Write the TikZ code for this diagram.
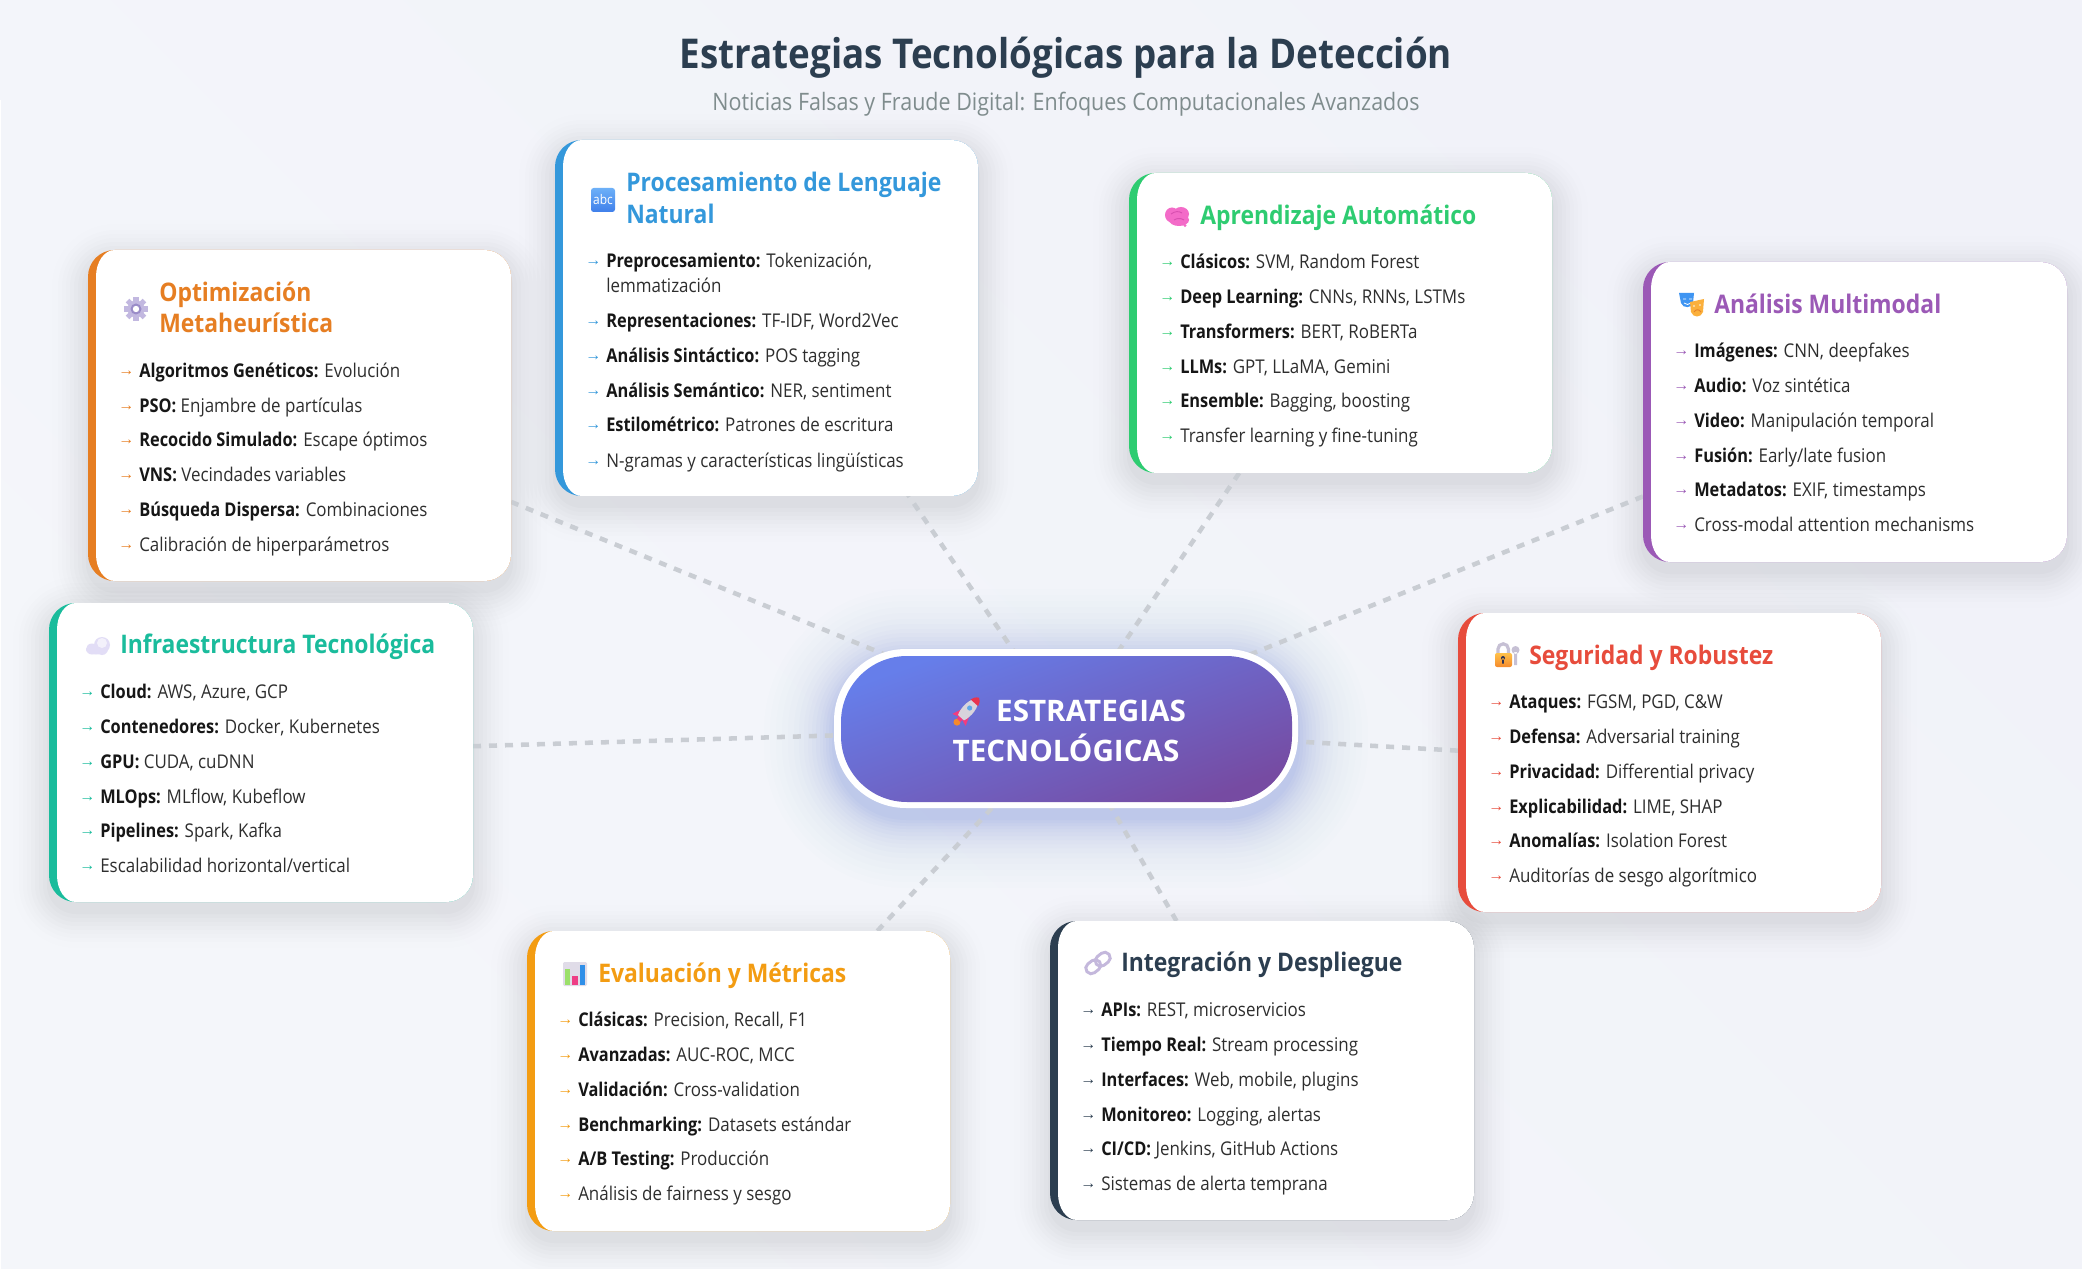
\documentclass[tikz,border=0pt]{standalone}
\usepackage{fontspec}
\setmainfont[FakeStretch=0.895]{Open Sans}
\newfontfamily\arrowfont{Liberation Sans}
\newfontfamily\ibff[FakeStretch=0.865]{Open Sans}
\newcommand{\ibf}{\ibff\bfseries}
\newfontfamily\ttlf[FakeStretch=0.895]{Open Sans}
\newfontfamily\hubf{Open Sans}
\usetikzlibrary{calc,backgrounds}
\pgfdeclarelayer{bgl}\pgfdeclarelayer{lines}
\pgfsetlayers{bgl,lines,main}
\definecolor{bgA}{HTML}{F4F6FA}\definecolor{bgB}{HTML}{F1F2F9}
\definecolor{cOpt}{HTML}{E67E22}\definecolor{cNlp}{HTML}{3498DB}\definecolor{cApr}{HTML}{2ECC71}
\definecolor{cMul}{HTML}{9B59B6}\definecolor{cSeg}{HTML}{E74C3C}\definecolor{cInt}{HTML}{2C3E50}
\definecolor{cEva}{HTML}{F39C12}\definecolor{cInf}{HTML}{1ABC9C}
\definecolor{ink}{HTML}{2E2E2E}\definecolor{inkb}{HTML}{161616}
\definecolor{linkc}{HTML}{C9CDD3}\definecolor{subc}{HTML}{7F8C8D}
\definecolor{hubA}{HTML}{667EEA}\definecolor{hubB}{HTML}{764BA2}
\newcommand{\px}{0.75pt}
\tikzset{x=0.75pt,y=-0.75pt,
 cardbox/.style={rectangle,inner sep=0pt,outer sep=0pt,rounded corners=20pt},
 titletext/.style={anchor=base west,inner sep=0pt,font=\fontsize{19.2pt}{24pt}\ttlf\bfseries},
 itemtext/.style={anchor=base west,inner sep=0pt,font=\fontsize{14.2pt}{19pt}\selectfont,text=ink},
 linkline/.style={draw=linkc,line width=3.4pt,dash pattern=on 6pt off 6pt},
 hubbox/.style={rectangle,inner sep=0pt,outer sep=0pt,rounded corners=54pt},
 hubtext/.style={anchor=base,inner sep=0pt,text=white,font=\fontsize{22.2pt}{26pt}\hubf\bfseries},
}
% card: name x0 y0 x1 y1 colour
\newcommand{\mkcard}[6]{%
 \pgfmathsetmacro{\cw}{#4-#2}\pgfmathsetmacro{\ch}{#5-#3}%
 \begin{pgfonlayer}{bgl}
 \foreach \s/\o in {36/0.005,30/0.007,26/0.008,22/0.009,18/0.010,14/0.011,10/0.012,6/0.013,2/0.014}{
  \pgfmathsetmacro{\rc}{20+0.75*\s}
  \fill[black,opacity=\o,rounded corners=\rc pt] (#2-\s,#3+10-\s) rectangle (#4+\s,#5+10+\s);
 }
 \end{pgfonlayer}
 \node[cardbox,fill=#6,minimum width=\cw*\px,minimum height=\ch*\px] (#1) at ({(#2+#4)/2},{(#3+#5)/2}) {};
 \fill[white] (#2+26.6,#3) -- (#4-26.6,#3) arc[start angle=270,end angle=360,radius=26.6]
   -- (#4,#5-26.6) arc[start angle=0,end angle=90,radius=26.6]
   -- (#2+26.6,#5) arc[start angle=90,end angle=180,x radius=18.6,y radius=26.6]
   -- (#2+8,#3+26.6) arc[start angle=180,end angle=270,x radius=18.6,y radius=26.6] -- cycle;
 \xdef\curx{#2}\xdef\cury{#3}\colorlet{curc}{#6}%
}
\newcommand{\ttl}[3]{\node[titletext,text=curc] (#1) at (\curx+71,\cury+#2+1.5) {#3};}
\newcommand{\itm}[3]{\node[itemtext] (#1) at (\curx+30,\cury+#2+0.3) {\makebox[21\dimexpr\px\relax][l]{\raisebox{1.3pt}{\arrowfont\fontsize{12pt}{12pt}\selectfont\color{curc}→}}#3};}
\newcommand{\itb}[4]{\itm{#1}{#2}{{\ibf\color{inkb}#3} #4}}
% icons, centred at a point
\definecolor{gearc}{HTML}{C2B8E0}\definecolor{gearm}{HTML}{9A8CC8}
\newcommand{\icgear}[2]{\begin{scope}[shift={(#1,#2)}]
 \foreach \a in {0,45,...,315}{\fill[gearc,rotate=\a] (-2.6,-12) rectangle (2.6,-6);}
 \fill[gearc] (0,0) circle[radius=8.5];
 \fill[gearm] (0,0) circle[radius=5.5];
 \fill[white] (0,0) circle[radius=3.2];\end{scope}}
\definecolor{abcA}{HTML}{6DB0F8}\definecolor{abcB}{HTML}{3F7FEA}
\newcommand{\icabc}[2]{\begin{scope}[shift={(#1,#2)}]
 \shade[top color=abcA,bottom color=abcB,rounded corners=2pt] (-12,-12) rectangle (12,12);
 \node[inner sep=0pt,text=white,font=\fontsize{10pt}{10pt}\selectfont] (abcmark) at (0,0) {abc};\end{scope}}
\definecolor{brainc}{HTML}{F36BC8}\definecolor{braind}{HTML}{D84FB0}
\newcommand{\icbrain}[2]{\begin{scope}[shift={(#1,#2)}]
 \fill[brainc] (-5,-2) circle[x radius=7,y radius=7.5];
 \fill[brainc] (4,-3) circle[x radius=8,y radius=7];
 \fill[brainc] (2,3) circle[x radius=10,y radius=6];
 \fill[brainc] (8,8.5) circle[radius=1.6];
 \draw[braind,line width=0.7pt] (-6,-3) .. controls (-2,-6) and (2,-6) .. (5,-4) (-3,3) .. controls (0,1) and (4,1) .. (7,3);
 \end{scope}}
\definecolor{maskb}{HTML}{3F95F2}\definecolor{masko}{HTML}{FBB03C}\definecolor{maskd}{HTML}{E5812A}\definecolor{maskl}{HTML}{FDE0B0}
\newcommand{\icmask}[2]{\begin{scope}[shift={(#1,#2)}]
 \fill[maskb] (-13,-12) -- (2,-12) -- (1,-2) .. controls (0,3) and (-9,4) .. (-11,-2) -- cycle;
 \draw[white,line width=0.6pt] (-9,-6) -- (-6,-6) (-3,-6) -- (0,-6) (-8,-2) .. controls (-6,0) and (-3,0) .. (-1,-2);
 \fill[masko] (-2,-3) -- (12,-6) -- (11,7) .. controls (9,13) and (1,13) .. (-1,7) -- cycle;
 \fill[maskl] (2,1) circle[radius=1.2] (8,0) circle[radius=1.2];
 \draw[maskd,line width=0.7pt] (2,7) .. controls (4,4) and (7,4) .. (9,7);
 \end{scope}}
\definecolor{lockA}{HTML}{FFC24A}\definecolor{lockB}{HTML}{F58A2C}\definecolor{lockg}{HTML}{C6C0D4}\definecolor{lockd}{HTML}{2F3352}
\newcommand{\iclock}[2]{\begin{scope}[shift={(#1,#2)}]
 \draw[lockg,line width=2.4pt] (-9,-2) -- (-9,-6) arc[start angle=180,end angle=360,radius=5.2] -- (1.4,-2);
 \shade[top color=lockA,bottom color=lockB,rounded corners=1.5pt] (-12,-2) rectangle (5,12);
 \fill[lockd] (-4,3) circle[radius=2] (-4.8,3) rectangle (-3.2,8.5);
 \fill[lockg] (8.5,-5) circle[radius=4] (7,-3) rectangle (10,10);
 \end{scope}}
\definecolor{cloudA}{HTML}{E2DDF6}\definecolor{cloudB}{HTML}{F3F1FB}
\newcommand{\iccloud}[2]{\begin{scope}[shift={(#1,#2)}]
 \fill[cloudA] (-6,3) circle[x radius=6,y radius=5.5] (4,-1) circle[radius=8] (-2,4) circle[x radius=10,y radius=4.5] (4,3) circle[radius=6];
 \fill[cloudB] (4,-3) circle[radius=5];
 \end{scope}}
\definecolor{chartg}{HTML}{E0DCE8}\definecolor{chartA}{HTML}{9BE06A}\definecolor{chartB}{HTML}{EE3D85}\definecolor{chartC}{HTML}{2F8FE8}
\newcommand{\icchart}[2]{\begin{scope}[shift={(#1,#2)}]
 \fill[chartg,rounded corners=1pt] (-12,-12) rectangle (12,12);
 \fill[chartA] (-10,-5) rectangle (-5,11);
 \fill[chartB] (-3,2) rectangle (3,11);
 \fill[chartC] (5,-9) rectangle (10,11);
 \end{scope}}
\definecolor{linkl}{HTML}{C4B8DC}
\newcommand{\iclink}[2]{\begin{scope}[shift={(#1,#2)},rotate=38]
 \draw[linkl,line width=2.2pt,rounded corners=4pt] (-14,-5.5) rectangle (2,5.5);
 \draw[linkl,line width=2.2pt,rounded corners=4pt] (-2,-5.5) rectangle (14,5.5);
 \end{scope}}
\definecolor{rockb}{HTML}{D8D4DC}\definecolor{rockr}{HTML}{E8344E}\definecolor{rockp}{HTML}{F23C7E}\definecolor{rocko}{HTML}{F5892B}\definecolor{rockw}{HTML}{5FA8E8}
\newcommand{\icrocket}[2]{\begin{scope}[shift={(#1,#2)},rotate=-42]
 \fill[rocko] (0,15) circle[x radius=3.5,y radius=3.5];
 \fill[rockp] (-5,2) -- (-9,12) -- (-3,10) -- cycle (5,2) -- (9,12) -- (3,10) -- cycle (-2.5,6) rectangle (2.5,12.5);
 \fill[rockb] (0,-17) .. controls (7,-11) and (7,2) .. (4,9) -- (-4,9) .. controls (-7,2) and (-7,-11) .. (0,-17) -- cycle;
 \fill[rockr] (0,-18) .. controls (3,-16) and (4.5,-14) .. (5,-11) -- (-5,-11) .. controls (-4.5,-14) and (-3,-16) .. (0,-18) -- cycle;
 \fill[rockw] (0,-4) circle[radius=2.6];
 \end{scope}}
\begin{document}
\begin{tikzpicture}
\useasboundingbox (0,0) rectangle (2082,1269);
\begin{pgfonlayer}{bgl}
\shade[shading=axis,left color=bgA,right color=bgB,shading angle=135] (0,0) rectangle (2082,1269);
\fill[white] (0,100) rectangle (1.2,1269);
\end{pgfonlayer}
\node[anchor=base,inner sep=0pt,text=cInt,font=\fontsize{30.8pt}{34pt}\ttlf\bfseries] (maintitle) at (1066,68.5) {Estrategias Tecnológicas para la Detección};
\node[anchor=base,inner sep=0pt,text=subc,font=\fontsize{18pt}{22pt}\selectfont] (subtitle) at (1066,110.5) {Noticias Falsas y Fraude Digital: Enfoques Computacionales Avanzados};

% hub
\begin{pgfonlayer}{bgl}
\foreach \s/\o in {70/0.006,64/0.008,58/0.009,52/0.011,46/0.013,40/0.015,35/0.018,30/0.021,26/0.024,22/0.027,18/0.030,14/0.033,11/0.036,8/0.039,5/0.042,2/0.045}{
 \pgfmathsetmacro{\rc}{54+0.75*\s}
 \fill[hubA,opacity=\o,rounded corners=\rc pt] (834-\s,649+10-\s) rectangle (1298+\s,808+10+\s);
}
\end{pgfonlayer}
\node[hubbox,fill=white,minimum width=464*\px,minimum height=159*\px] (hub) at (1066,728.5) {};
\shade[shading=axis,left color=hubA,right color=hubB,shading angle=20,rounded corners=49.5pt] (841,656) rectangle (1292,802);
\node[hubtext] (hubone) at (1091,721) {ESTRATEGIAS};
\node[hubtext] (hubtwo) at (1066,761) {TECNOLÓGICAS};
\icrocket{967}{711}

\mkcard{opt}{88}{250}{511}{581}{cOpt}
\icgear{136}{309}
\ttl{optT}{50}{Optimización}\ttl{optU}{81}{Metaheurística}
\itb{opta}{127}{Algoritmos Genéticos:}{Evolución}
\itb{optb}{162}{PSO:}{Enjambre de partículas}
\itb{optc}{196}{Recocido Simulado:}{Escape óptimos}
\itb{optd}{231}{VNS:}{Vecindades variables}
\itb{opte}{266}{Búsqueda Dispersa:}{Combinaciones}
\itm{optf}{301}{Calibración de hiperparámetros}

\mkcard{nlp}{555}{140}{978}{496}{cNlp}
\icabc{603}{200}
\ttl{nlpT}{50}{Procesamiento de Lenguaje}\ttl{nlpU}{82}{Natural}
\itb{nlpa}{127}{Preprocesamiento:}{Tokenización,}
\node[itemtext] (nlpa2) at (\curx+51,\cury+152.3) {lemmatización};
\itb{nlpb}{187}{Representaciones:}{TF-IDF, Word2Vec}
\itb{nlpc}{222}{Análisis Sintáctico:}{POS tagging}
\itb{nlpd}{257}{Análisis Semántico:}{NER, sentiment}
\itb{nlpe}{291}{Estilométrico:}{Patrones de escritura}
\itm{nlpf}{327}{N-gramas y características lingüísticas}

\mkcard{apr}{1129}{173}{1552}{473}{cApr}
\icbrain{1177}{217}
\ttl{aprT}{50.5}{Aprendizaje Automático}
\itb{apra}{95}{Clásicos:}{SVM, Random Forest}
\itb{aprb}{130}{Deep Learning:}{CNNs, RNNs, LSTMs}
\itb{aprc}{165}{Transformers:}{BERT, RoBERTa}
\itb{aprd}{200}{LLMs:}{GPT, LLaMA, Gemini}
\itb{apre}{234}{Ensemble:}{Bagging, boosting}
\itm{aprf}{269}{Transfer learning y fine-tuning}

\mkcard{mul}{1643}{262}{2067}{562}{cMul}
\icmask{1692}{305}
\ttl{mulT}{50}{Análisis Multimodal}
\itb{mula}{95}{Imágenes:}{CNN, deepfakes}
\itb{mulb}{130}{Audio:}{Voz sintética}
\itb{mulc}{165}{Video:}{Manipulación temporal}
\itb{muld}{200}{Fusión:}{Early/late fusion}
\itb{mule}{234}{Metadatos:}{EXIF, timestamps}
\itm{mulf}{269}{Cross-modal attention mechanisms}

\mkcard{seg}{1458}{613}{1881}{912}{cSeg}
\iclock{1507}{655}
\ttl{segT}{50}{Seguridad y Robustez}
\itb{sega}{95}{Ataques:}{FGSM, PGD, C\&W}
\itb{segb}{130}{Defensa:}{Adversarial training}
\itb{segc}{165}{Privacidad:}{Differential privacy}
\itb{segd}{200}{Explicabilidad:}{LIME, SHAP}
\itb{sege}{234}{Anomalías:}{Isolation Forest}
\itm{segf}{269}{Auditorías de sesgo algorítmico}

\mkcard{int}{1050}{921}{1474}{1220}{cInt}
\iclink{1098}{963}
\ttl{intT}{49}{Integración y Despliegue}
\itb{inta}{95}{APIs:}{REST, microservicios}
\itb{intb}{130}{Tiempo Real:}{Stream processing}
\itb{intc}{165}{Interfaces:}{Web, mobile, plugins}
\itb{intd}{200}{Monitoreo:}{Logging, alertas}
\itb{inte}{234}{CI/CD:}{Jenkins, GitHub Actions}
\itm{intf}{269}{Sistemas de alerta temprana}

\mkcard{eva}{527}{931}{950}{1231}{cEva}
\icchart{575}{974}
\ttl{evaT}{50}{Evaluación y Métricas}
\itb{evaa}{95}{Clásicas:}{Precision, Recall, F1}
\itb{evab}{130}{Avanzadas:}{AUC-ROC, MCC}
\itb{evac}{165}{Validación:}{Cross-validation}
\itb{evad}{200}{Benchmarking:}{Datasets estándar}
\itb{evae}{234}{A/B Testing:}{Producción}
\itm{evaf}{269}{Análisis de fairness y sesgo}

\mkcard{inf}{49}{603}{473}{902}{cInf}
\iccloud{98}{646}
\ttl{infT}{49}{Infraestructura Tecnológica}
\itb{infa}{95}{Cloud:}{AWS, Azure, GCP}
\itb{infb}{130}{Contenedores:}{Docker, Kubernetes}
\itb{infc}{165}{GPU:}{CUDA, cuDNN}
\itb{infd}{200}{MLOps:}{MLflow, Kubeflow}
\itb{infe}{234}{Pipelines:}{Spark, Kafka}
\itm{inff}{269}{Escalabilidad horizontal/vertical}

\coordinate (nlpanchor) at ($(nlp.center)+(22,0)$);
\begin{pgfonlayer}{lines}
\foreach \n in {opt,nlpanchor,apr,mul,seg,int,eva,inf}{
 \draw[linkline] (\n) -- (hub.center);
}
\end{pgfonlayer}
\end{tikzpicture}
\end{document}
